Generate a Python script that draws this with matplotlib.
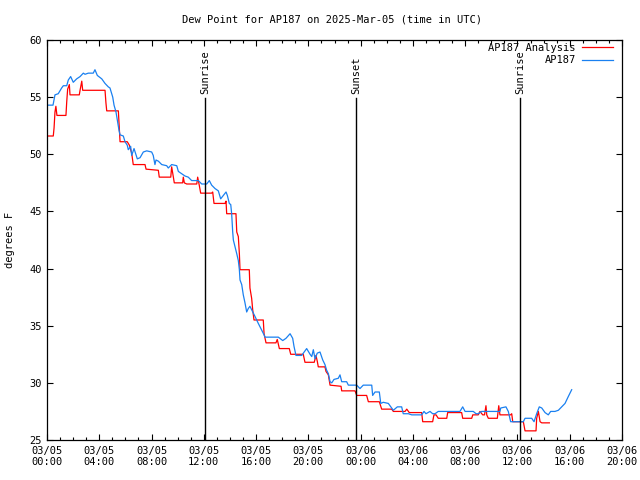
import numpy as np
import pandas as pd
import matplotlib
matplotlib.use("Agg")
import matplotlib.pyplot as plt
import matplotlib.dates as mdates

# ---- data (hours after 2025-03-05 00:00 UTC, degrees F) ----
obs_hours = [0.00, 0.46, 0.61, 0.86, 1.12, 1.25, 1.51, 1.63, 1.81, 2.01, 2.27, 2.53, 2.78, 2.91,
             3.16, 3.54, 3.67, 3.85, 4.19, 4.44, 4.69, 4.82, 5.03, 5.13, 5.28, 5.38, 5.51, 5.59,
             5.84, 5.97, 6.14, 6.22, 6.40, 6.48, 6.66, 6.91, 7.12, 7.37, 7.63, 8.01, 8.13, 8.26,
             8.34, 8.52, 8.78, 9.16, 9.28, 9.54, 9.93, 10.05, 10.31, 10.56, 10.81, 11.07, 11.58,
             11.84, 12.22, 12.42, 12.60, 12.86, 13.11, 13.29, 13.49, 13.70, 13.80, 13.95, 14.06,
             14.13, 14.21, 14.26, 14.39, 14.52, 14.64, 14.72, 14.77, 14.90, 15.02, 15.15, 15.28,
             15.40, 15.53, 15.66, 15.92, 16.17, 16.43, 16.61, 16.68, 17.70, 18.04, 18.29, 18.60,
             18.80, 18.90, 19.05, 19.49, 19.87, 20.13, 20.26, 20.38, 20.51, 20.68, 20.89, 21.10,
             21.27, 21.40, 21.53, 21.66, 21.79, 21.96, 22.29, 22.42, 22.55, 22.93, 23.06, 23.70,
             23.95, 24.20, 24.85, 24.92, 25.10, 25.43, 25.54, 25.73, 26.12, 26.25, 26.50, 26.81,
             27.14, 27.26, 27.65, 27.91, 28.67, 28.85, 29.00, 29.31, 29.51, 29.69, 29.94, 31.60,
             31.81, 31.99, 32.62, 32.83, 33.00, 33.26, 34.66, 34.72, 35.12, 35.30, 35.48, 36.45,
             36.58, 37.09, 37.27, 37.47, 37.67, 37.86, 38.11, 38.36, 38.54, 38.87, 39.13, 39.39,
             39.64, 39.89, 40.15]
obs_dewpt = [54.3, 54.3, 55.2, 55.3, 55.8, 56.0, 56.0, 56.5, 56.8, 56.3, 56.6, 56.8, 57.1, 57.0,
             57.1, 57.1, 57.4, 56.9, 56.6, 56.2, 55.9, 55.8, 55.0, 54.3, 53.7, 53.0, 52.1, 51.7,
             51.6, 51.1, 50.8, 50.4, 50.7, 49.9, 50.5, 49.6, 49.7, 50.2, 50.3, 50.2, 49.9, 49.1,
             49.5, 49.4, 49.1, 49.0, 48.8, 49.1, 49.0, 48.5, 48.3, 48.1, 48.0, 47.7, 47.7,
             47.4, 47.4, 47.7, 47.3, 47.0, 46.8, 46.1, 46.4, 46.7, 46.4, 45.7, 45.6,
             44.8, 43.2, 42.5, 41.9, 41.3, 40.7, 39.9, 39.0, 38.6, 37.7, 37.0, 36.2,
             36.5, 36.7, 36.4, 35.8, 35.2, 34.6, 34.2, 34.0, 34.0, 33.7, 33.9, 34.3,
             33.9, 33.2, 32.4, 32.4, 33.0, 32.5, 32.3, 32.9, 32.1, 32.6, 32.7, 32.0,
             31.6, 31.1, 30.8, 30.1, 30.0, 30.3, 30.4, 30.7, 30.1, 30.1, 29.8, 29.8,
             29.5, 29.8, 29.8, 28.9, 29.2, 29.2, 28.2, 28.3, 28.2, 28.0, 27.6, 27.9,
             27.9, 27.3, 27.3, 27.2, 27.2, 27.5, 27.3, 27.5, 27.3, 27.3, 27.5, 27.5,
             27.9, 27.5, 27.5, 27.3, 27.3, 27.5, 27.5, 27.8, 27.9, 27.5, 26.6, 26.6,
             26.9, 26.9, 26.6, 27.3, 27.9, 27.8, 27.4, 27.2, 27.5, 27.5, 27.6, 27.9,
             28.2, 28.8, 29.4]

ana_hours = [0.00, 0.48, 0.54, 0.61, 0.68, 0.76, 1.45, 1.51, 1.58, 1.71, 1.76, 2.47, 2.53, 2.66,
             2.73, 4.44, 4.51, 4.57, 5.46, 5.59, 6.14, 6.30, 6.48, 6.60, 7.50, 7.58, 8.52, 8.59,
             9.47, 9.54, 9.67, 9.74, 10.38, 10.43, 10.51, 10.69, 11.46, 11.53, 11.65, 11.76,
             12.60, 12.68, 12.78, 13.62, 13.70, 13.75, 14.46, 14.52, 14.64, 14.72, 14.77, 15.48,
             15.53, 15.66, 15.74, 15.84, 16.55, 16.61, 16.76, 17.52, 17.62, 17.78, 18.54, 18.65,
             19.61, 19.74, 20.45, 20.58, 20.68, 20.76, 21.27, 21.35, 21.53, 21.66, 22.50, 22.55,
             23.57, 23.70, 24.46, 24.59, 25.43, 25.61, 26.38, 26.50, 27.40, 27.53, 27.72, 28.67,
             28.75, 29.51, 29.61, 29.77, 29.94, 30.59, 30.66, 31.73, 31.81, 32.50, 32.58, 33.00,
             33.13, 33.34, 33.48, 33.59, 33.65, 33.77, 34.46, 34.57, 34.66, 35.48, 35.56, 35.64,
             36.45, 36.58, 37.42, 37.47, 37.60, 37.73, 37.86, 38.44]
ana_dewpt = [51.6, 51.6, 52.3, 53.7, 54.2, 53.4, 53.4, 54.6, 55.7, 56.1, 55.2, 55.2, 55.6, 56.4,
             55.6, 55.6, 54.5, 53.8, 53.8, 51.1, 51.1, 50.8, 50.1, 49.1, 49.1, 48.7, 48.6, 48.0,
             48.0, 48.9, 48.0, 47.5, 47.5, 48.0, 47.5, 47.4, 47.4, 48.0, 47.3, 46.6,
             46.6, 46.7, 45.7, 45.7, 45.9, 44.8, 44.8, 43.2, 42.8, 41.3, 39.9, 39.9,
             38.3, 37.4, 36.4, 35.5, 35.5, 34.3, 33.5, 33.5, 33.8, 33.0, 33.0, 32.5,
             32.5, 31.8, 31.8, 32.4, 31.9, 31.4, 31.4, 31.0, 30.7, 29.8, 29.7, 29.3,
             29.3, 28.9, 28.9, 28.35, 28.35, 27.7, 27.7, 27.5, 27.5, 27.7, 27.4, 27.4,
             26.6, 26.6, 27.2, 27.2, 26.9, 26.9, 27.4, 27.4, 26.9, 26.9, 27.2, 27.2,
             27.5, 27.2, 27.2, 28.0, 27.2, 26.9, 26.9, 28.0, 27.2, 27.2, 27.3, 26.6,
             26.6, 25.8, 25.8, 26.9, 27.5, 26.6, 26.5, 26.5]

sun_hours = [12.09, 23.64, 36.19]
sun_labels = ["Sunrise", "Sunset", "Sunrise"]

series_labels = ["AP187 Analysis", "AP187"]
title = "Dew Point for AP187 on 2025-Mar-05 (time in UTC)"

start = pd.Timestamp("2025-03-05 00:00")
to_t = lambda h: (start + pd.to_timedelta(np.asarray(h), unit="h")).to_pydatetime()

FONT = "DejaVu Sans Mono"
FS = 7.5
plt.rcParams["font.family"] = FONT

fig = plt.figure(figsize=(6.4, 4.8), dpi=100)
ax = fig.add_axes([47 / 640, 40 / 480, 575 / 640, 400 / 480])

ax.plot(to_t(ana_hours), ana_dewpt, color="#ff0000", lw=0.9, label=series_labels[0])
ax.plot(to_t(obs_hours), obs_dewpt, color="#1a80f0", lw=0.9, label=series_labels[1])

for h, lab in zip(sun_hours, sun_labels):
    t = to_t([h])[0]
    ax.plot([t, t], [25, 54.9], color="black", lw=1.0)
    ax.text(t, 55.3, lab, rotation=90, ha="center", va="bottom", fontsize=FS, family=FONT)

ax.set_xlim(to_t([0])[0], to_t([44])[0])
ax.set_ylim(25, 60)
ax.set_yticks(np.arange(25, 61, 5))
ax.xaxis.set_major_locator(mdates.HourLocator(byhour=range(0, 24, 4)))
ax.xaxis.set_minor_locator(mdates.HourLocator())
ax.xaxis.set_major_formatter(mdates.DateFormatter("%m/%d\n%H:%M"))

ax.tick_params(which="both", direction="in", top=True, right=True, labelsize=FS, width=0.8)
ax.tick_params(which="major", length=4.5, pad=4)
ax.tick_params(which="minor", length=2.2)
for s in ax.spines.values():
    s.set_linewidth(0.9)

fig.text(10 / 640, 1 - 240 / 480, "degrees F", rotation=90, ha="center", va="center",
         fontsize=FS, family=FONT)
fig.text(332 / 640, 1 - 19 / 480, title, ha="center", va="center", fontsize=FS, family=FONT)

ax.legend(loc="upper right", frameon=False, markerfirst=False, fontsize=FS,
          handlelength=3.0, handletextpad=0.6, labelspacing=0.25,
          bbox_to_anchor=(0.985, 0.993), borderaxespad=0, borderpad=0)

fig.savefig("out.png", dpi=100)
